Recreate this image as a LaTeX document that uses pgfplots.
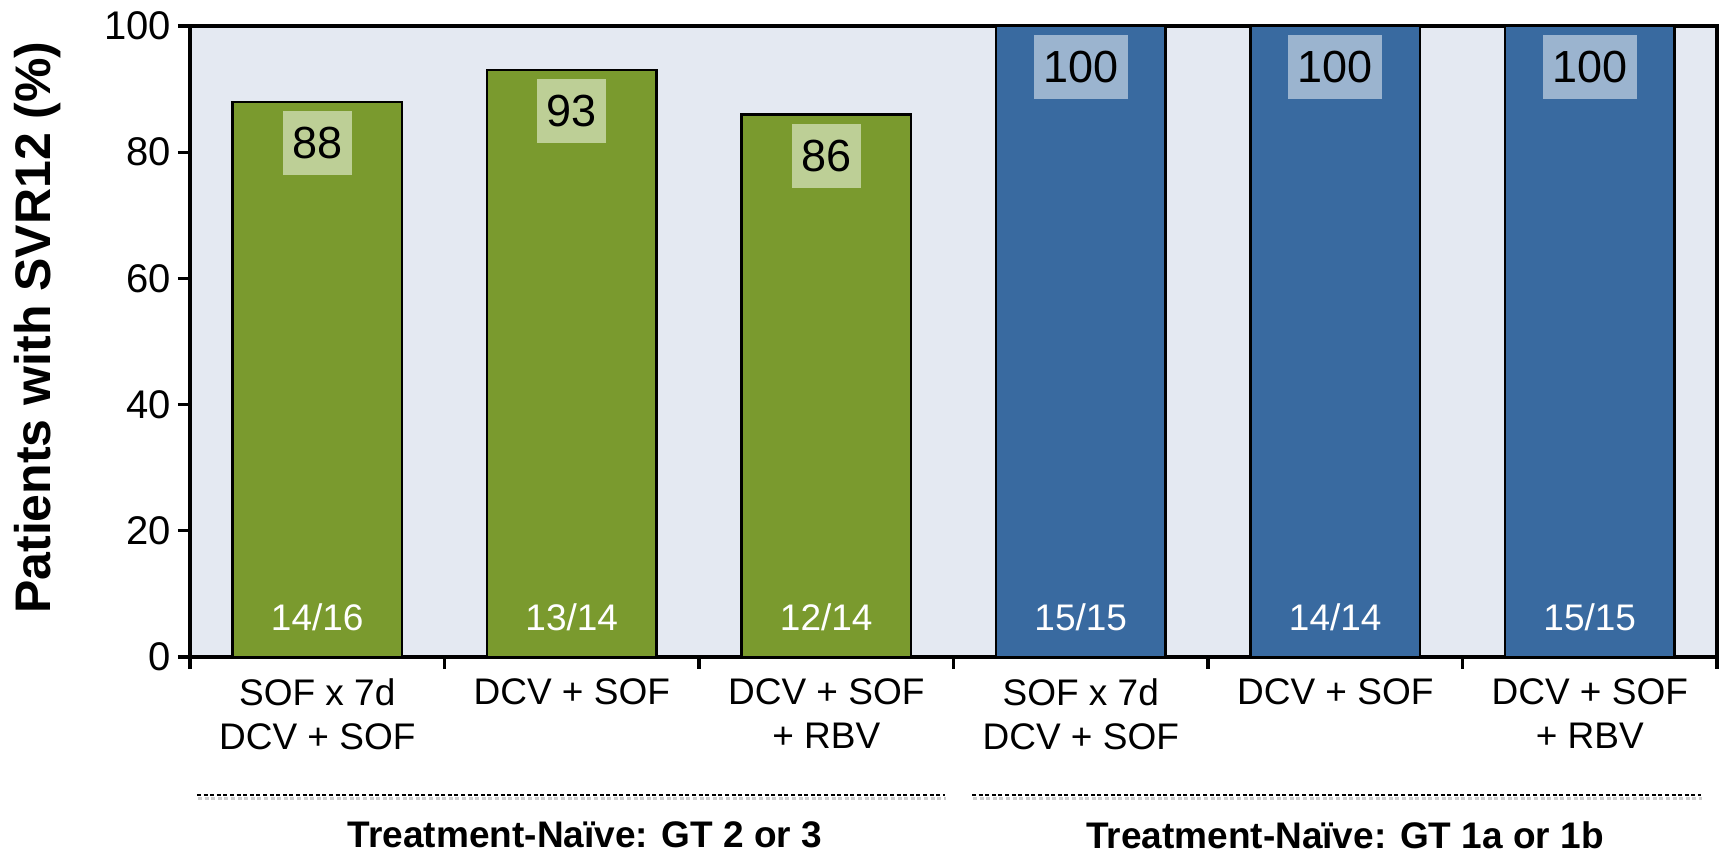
\documentclass[border=0pt]{standalone}
\usepackage{fontspec}
\setmainfont{Liberation Sans}
\usepackage{pgfplots}
\pgfplotsset{compat=1.18}
\definecolor{grn}{RGB}{122,154,46}
\definecolor{grnbox}{RGB}{189,207,150}
\definecolor{blu}{RGB}{57,106,160}
\definecolor{blubox}{RGB}{155,180,207}
\definecolor{bgc}{RGB}{228,233,242}
\begin{document}
\begin{tikzpicture}
\useasboundingbox (-95pt,-99pt) rectangle (766.5pt,328.5pt);
\begin{axis}[
  at={(0,0)}, anchor=south west,
  scale only axis, width=763.5pt, height=315.5pt,
  xmin=-0.5, xmax=5.5, ymin=0, ymax=100,
  ybar, bar width=0.667, bar shift=0pt,
  axis background/.style={fill=bgc},
  axis line style={line width=1.6pt},
  tick style={line width=1.6pt, black},
  tick align=outside, major tick length=6pt,
  xtick pos=bottom, ytick pos=left,
  ytick={0,20,...,100},
  yticklabel style={font=\fontsize{20}{24}\selectfont},
  /pgf/number format/assume math mode=true,
  xtick={-0.5,0.5,...,5.5}, xticklabels={},
  extra x ticks={0,1,2,3,4,5},
  extra x tick labels={{SOF x 7d\\DCV + SOF},{DCV + SOF},{DCV + SOF\\+ RBV},{SOF x 7d\\DCV + SOF},{DCV + SOF},{DCV + SOF\\+ RBV}},
  extra x tick style={major tick length=0pt, xticklabel style={align=center, anchor=north, yshift=-7.5pt, font=\fontsize{18.5}{22}\selectfont}},
  ylabel={Patients with SVR12 (\%)},
  ylabel style={font=\bfseries\fontsize{25}{30}\selectfont, at={(axis description cs:-0.0995,0.522)}, anchor=center},
  nodes near coords, nodes near coords align={below},
  every node near coord/.append style={font=\fontsize{22.5}{27}\selectfont, text=black, inner xsep=4.8pt, inner ysep=0pt, minimum height=32pt, yshift=-4pt},
  clip=false,
]
\addplot[fill=grn, draw=black, line width=1.2pt, every node near coord/.append style={fill=grnbox}] coordinates {(0,88) (1,93) (2,86)};
\addplot[fill=blu, draw=black, line width=1.2pt, every node near coord/.append style={fill=blubox}] coordinates {(3,100) (4,100) (5,100)};
\node[text=white, font=\fontsize{18.5}{22}\selectfont] at (axis cs:0,0) [yshift=19.75pt] {14/16};
\node[text=white, font=\fontsize{18.5}{22}\selectfont] at (axis cs:1,0) [yshift=19.75pt] {13/14};
\node[text=white, font=\fontsize{18.5}{22}\selectfont] at (axis cs:2,0) [yshift=19.75pt] {12/14};
\node[text=white, font=\fontsize{18.5}{22}\selectfont] at (axis cs:3,0) [yshift=19.75pt] {15/15};
\node[text=white, font=\fontsize{18.5}{22}\selectfont] at (axis cs:4,0) [yshift=19.75pt] {14/14};
\node[text=white, font=\fontsize{18.5}{22}\selectfont] at (axis cs:5,0) [yshift=19.75pt] {15/15};
\end{axis}
\draw[gray!40, line width=1.1pt, dash pattern=on 2pt off 1.3pt] (4pt,-70.8pt) -- (378pt,-70.8pt);
\draw[black, line width=0.8pt, dash pattern=on 2pt off 1.3pt] (3.5pt,-69pt) -- (377.5pt,-69pt);
\draw[gray!40, line width=1.1pt, dash pattern=on 2pt off 1.3pt] (391.5pt,-70.8pt) -- (756pt,-70.8pt);
\draw[black, line width=0.8pt, dash pattern=on 2pt off 1.3pt] (391pt,-69pt) -- (755.5pt,-69pt);
\node[font=\bfseries\fontsize{18.5}{22}\selectfont] at (197.5pt,-89pt) {Treatment-Naïve: GT 2 or 3};
\node[font=\bfseries\fontsize{18.5}{22}\selectfont] at (577.5pt,-89pt) {Treatment-Naïve: GT 1a or 1b};
\end{tikzpicture}
\end{document}
